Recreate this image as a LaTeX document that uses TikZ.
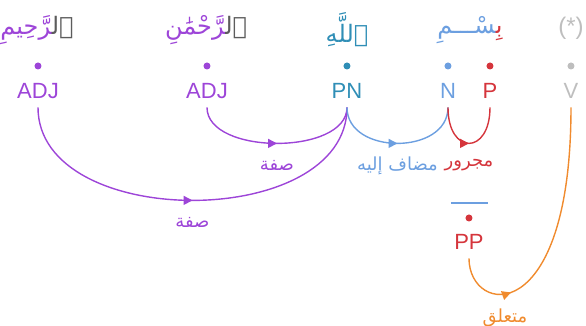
\documentclass[tikz,border=0pt]{standalone}
\usepackage{fontspec}
\setmainfont{Liberation Sans}
\newfontfamily\arabicfont[Script=Arabic]{DejaVu Sans}
\usetikzlibrary{arrows.meta, decorations.markings}
\TeXXeTstate=1
\definecolor{adjcol}{HTML}{9D45D8}
\definecolor{pncol}{HTML}{2F8EB6}
\definecolor{ncol}{HTML}{6C9FE0}
\definecolor{pcol}{HTML}{D5353C}
\definecolor{vcol}{HTML}{BEBEBE}
\definecolor{alcol}{HTML}{5C5C5C}
\definecolor{linkcol}{HTML}{F08B2E}
\newcommand{\zwj}{\char"200D}

\begin{document}
\begin{tikzpicture}[x=0.5pt, y=-0.5pt,
  word/.style={font=\arabicfont\fontsize{12}{14}\selectfont, inner sep=0pt},
  dot/.style={circle, fill=#1, inner sep=0pt, minimum size=3.5pt},
  tag/.style={font=\fontsize{11}{13}\selectfont, text=#1, text height=8pt, text depth=0pt, inner sep=4pt},
  lbl/.style={font=\arabicfont\fontsize{9}{11}\selectfont, text=#1, inner sep=0pt},
  arc/.style={line width=0.7pt,
    decoration={markings, mark=at position #1 with {\arrow{Triangle[length=4.5pt,width=4.5pt]}}},
    postaction={decorate}},
  arc/.default=0.5]
 \useasboundingbox (0,0) rectangle (586,326);

 \node[word] (wADJa) at (37,30) {\textcolor{adjcol}{\zwj رَّحِيمِ}\textcolor{alcol}{ٱل\zwj}};
 \node[word] (wADJb) at (206,30) {\textcolor{adjcol}{\zwj رَّحْمَٰنِ}\textcolor{alcol}{ٱل\zwj}};
 \node[word, text=pncol] (wPN) at (347,30) {ٱللَّهِ};
 \node[word] (wNP) at (470,30) {\textcolor{ncol}{\zwj سْـــمِ}\textcolor{pcol}{بِ\zwj}};
 \node[font=\fontsize{12}{14}\selectfont, text=vcol, inner sep=0pt] (wV) at (571,28) {(*)};

 \node[dot=adjcol] (dADJa) at (38,66) {};
 \node[dot=adjcol] (dADJb) at (207,66) {};
 \node[dot=pncol] (dPN) at (347,66) {};
 \node[dot=ncol] (dN) at (448,66) {};
 \node[dot=pcol] (dP) at (490,66) {};
 \node[dot=vcol] (dV) at (571,66) {};

 \node[tag=adjcol] (ADJa) at (38,91) {ADJ};
 \node[tag=adjcol] (ADJb) at (207,91) {ADJ};
 \node[tag=pncol] (PN) at (347,91) {PN};
 \node[tag=ncol] (N) at (448,91) {N};
 \node[tag=pcol] (P) at (490,91) {P};
 \node[tag=vcol] (V) at (571,91) {V};

 \draw[ncol, line width=0.7pt] (451,203) -- (488,203);
 \node[dot=pcol] (dPP) at (469,218) {};
 \node[tag=pcol] (PP) at (469,242) {PP};

 \draw[arc, adjcol] (ADJa.south) .. controls +(0,124) and +(0,124) .. (PN.south)
  node[lbl=adjcol, pos=0.5, yshift=-11pt] (l1) {\beginR صفة\endR};
 \draw[arc, adjcol] (ADJb.south) .. controls +(0,48) and +(0,48) .. (PN.south)
  node[lbl=adjcol, pos=0.5, yshift=-11pt] (l2) {\beginR صفة\endR};
 \draw[arc, ncol] (PN.south) .. controls +(0,48) and +(0,48) .. (N.south)
  node[lbl=ncol, pos=0.5, yshift=-11pt] (l3) {\beginR مضاف إليه\endR};
 \draw[arc, pcol] (N.south) .. controls +(0,48) and +(0,48) .. (P.south)
  node[lbl=pcol, pos=0.5, yshift=-11pt] (l4) {\beginR مجرور\endR};
 \draw[arc=0.24, linkcol] (PP.south) .. controls +(0,57) and +(0,223) .. (V.south)
  node[lbl=linkcol, pos=0.4, yshift=-12pt] (l5) {\beginR متعلق\endR};
\end{tikzpicture}
\end{document}
